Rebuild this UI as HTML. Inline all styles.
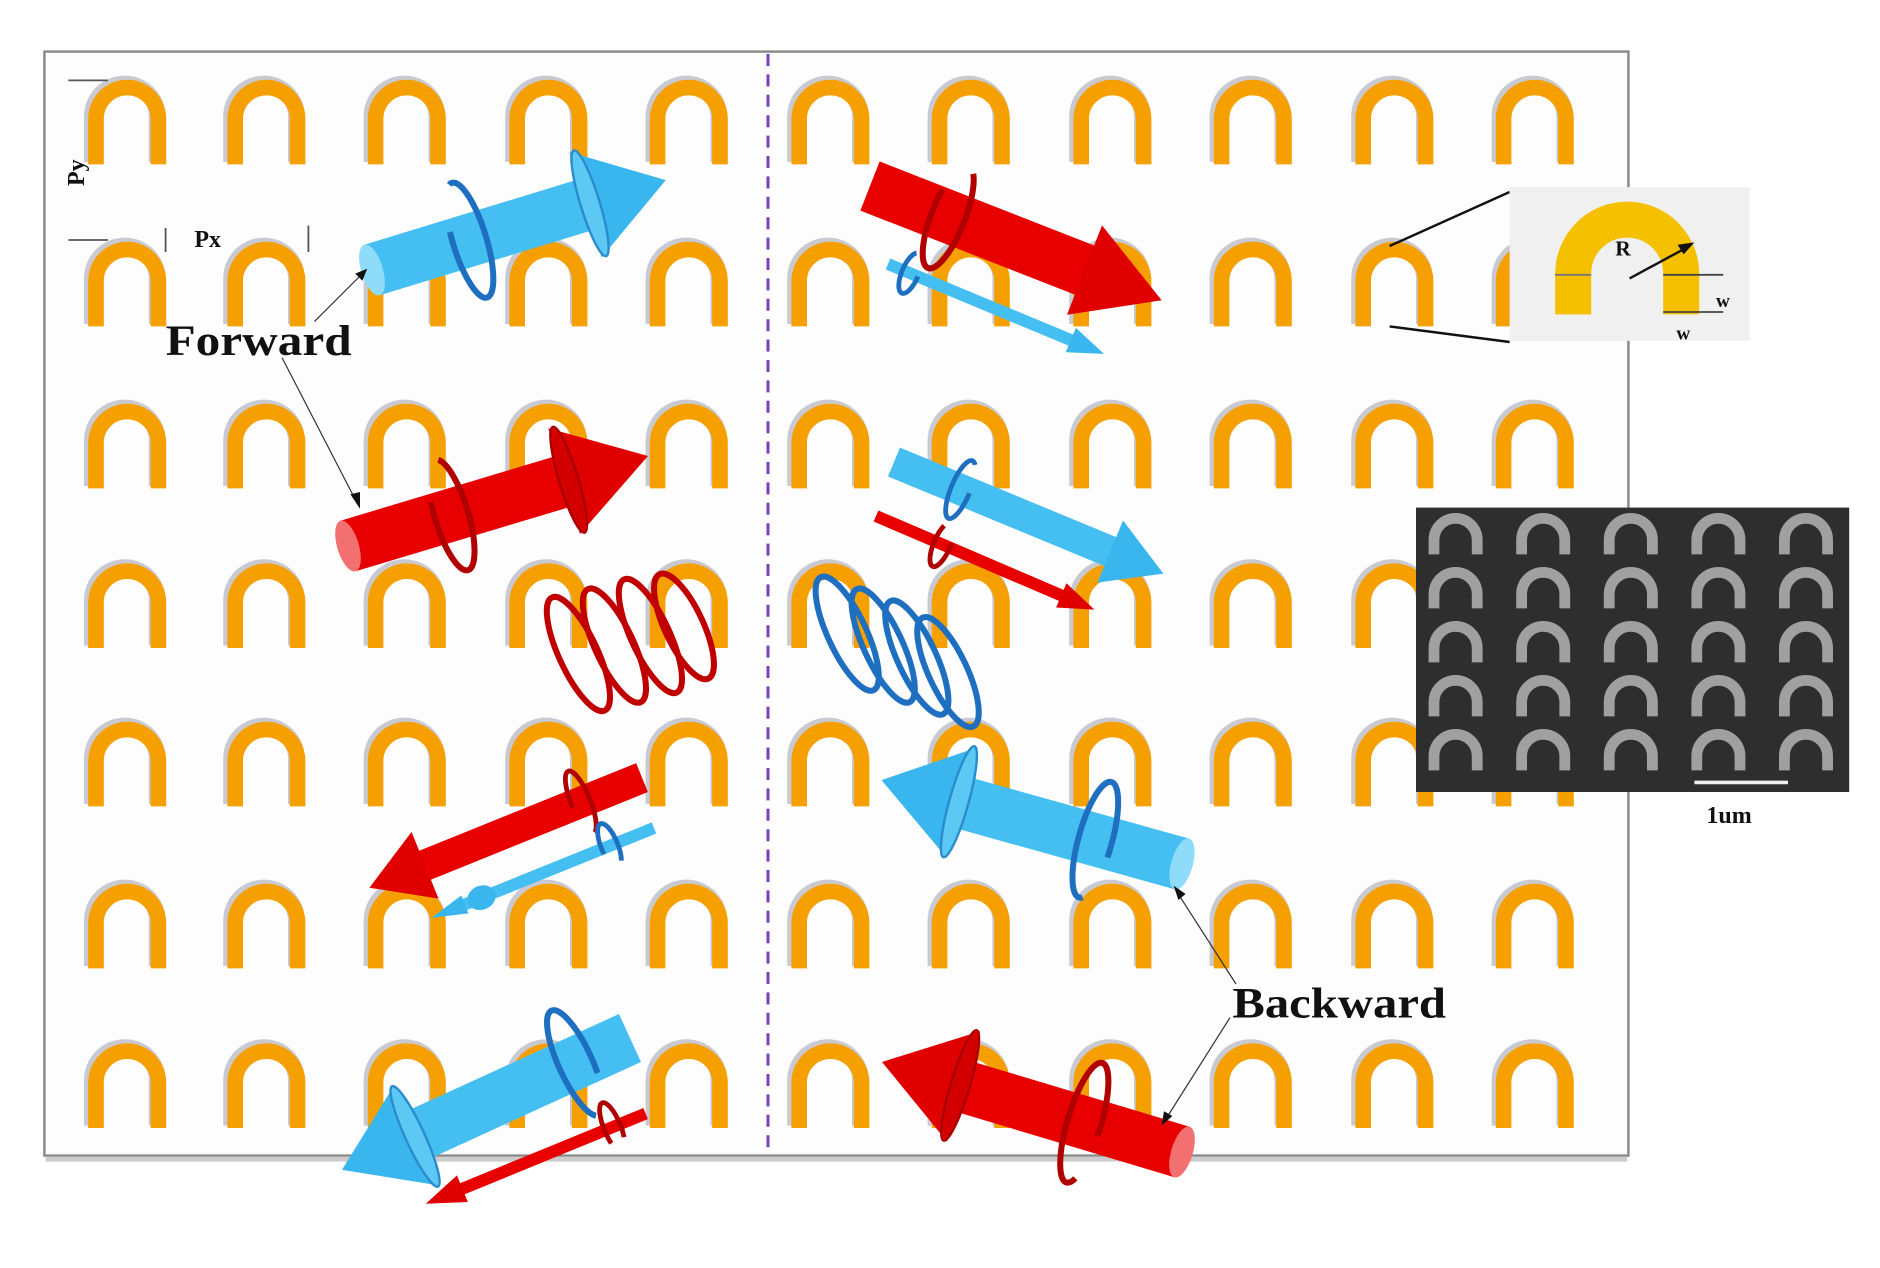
<!DOCTYPE html>
<html><head><meta charset="utf-8"><style>
html,body{margin:0;padding:0;background:#fff;}
svg{display:block}
text{font-family:"Liberation Serif",serif;font-weight:bold;fill:#111}
</style></head><body>
<svg width="1880" height="1268" viewBox="0 0 1566.67 1056.67" xmlns="http://www.w3.org/2000/svg">
<defs>
<g id="u">
 <path d="M5,70 V32 A27,27 0 0 1 59,32 V70" fill="none" stroke="#c9c9d2" stroke-width="14"/>
 <path d="M8,72 V34 A26,26 0 0 1 60,34 V72" fill="none" stroke="#f5a000" stroke-width="13"/>
</g>
<g id="su"><path d="M5,34 V22 A18,18 0 0 1 41,22 V34" fill="none" stroke="#a0a0a0" stroke-width="9"/></g>
<g id="row">
<use href="#u" x="72"/><use href="#u" x="188"/><use href="#u" x="305"/><use href="#u" x="423"/><use href="#u" x="540"/><use href="#u" x="658"/><use href="#u" x="775"/><use href="#u" x="893"/><use href="#u" x="1010"/><use href="#u" x="1128"/><use href="#u" x="1245"/>
</g>
<g id="srow"><use href="#su" x="0"/><use href="#su" x="73"/><use href="#su" x="146"/><use href="#su" x="219"/><use href="#su" x="292"/></g>
</defs>
<rect x="0" y="0" width="1566.67" height="1056.67" fill="#fff"/>
<rect x="37" y="43" width="1320" height="920" fill="#fdfdfd" stroke="#888" stroke-width="2"/>
<line x1="38" y1="966" x2="1356" y2="966" stroke="#ccc" stroke-width="4"/>
<g transform="translate(0,65)"><use href="#row"/></g>
<g transform="translate(0,200)"><use href="#row"/></g>
<g transform="translate(0,335)"><use href="#row"/></g>
<g transform="translate(0,468)"><use href="#row"/></g>
<g transform="translate(0,600)"><use href="#row"/></g>
<g transform="translate(0,735)"><use href="#row"/></g>
<g transform="translate(0,868)"><use href="#row"/></g>
<line x1="640" y1="45" x2="640" y2="960" stroke="#7a3fb8" stroke-width="2.5" stroke-dasharray="10,7"/>
<line x1="57" y1="67" x2="90" y2="67" stroke="#555" stroke-width="1.5"/>
<line x1="57" y1="200" x2="90" y2="200" stroke="#555" stroke-width="1.5"/>
<line x1="138" y1="190" x2="138" y2="210" stroke="#555" stroke-width="1.5"/>
<line x1="257" y1="188" x2="257" y2="210" stroke="#555" stroke-width="1.5"/>
<text x="162" y="206" font-size="20">Px</text>
<text transform="translate(70,155) rotate(-90)" font-size="20">Py</text>
<line x1="1158" y1="205" x2="1258" y2="160" stroke="#111" stroke-width="2"/>
<line x1="1158" y1="272" x2="1258" y2="285" stroke="#111" stroke-width="2"/>
<rect x="1258" y="156" width="200" height="128" fill="#f0f0f0"/>
<path d="M1311,262 V228 A45,45 0 0 1 1401,228 V262" fill="none" stroke="#f5c000" stroke-width="30"/>
<line x1="1296" y1="229" x2="1326" y2="229" stroke="#777" stroke-width="1.5"/>
<line x1="1386" y1="229" x2="1436" y2="229" stroke="#444" stroke-width="1.5"/>
<line x1="1386" y1="260" x2="1436" y2="260" stroke="#444" stroke-width="1.5"/>
<line x1="1358" y1="232" x2="1408" y2="205" stroke="#111" stroke-width="2"/>
<polygon points="1412,202 1398,204 1403,212" fill="#111"/>
<text x="1346" y="213" font-size="18">R</text>
<text x="1430" y="256" font-size="16">w</text>
<text x="1397" y="283" font-size="16">w</text>
<rect x="1180" y="423" width="361" height="237" fill="#2e2e2e"/>
<g transform="translate(1190,428)">
<use href="#srow"/><use href="#srow" y="45"/><use href="#srow" y="90"/><use href="#srow" y="135"/><use href="#srow" y="180"/>
</g>
<line x1="1412" y1="652" x2="1490" y2="652" stroke="#eee" stroke-width="3"/>
<text x="1422" y="686" font-size="20">1um</text>

<g transform="translate(310,225) rotate(-17)">
 <rect x="0" y="-22" width="190" height="44" fill="#45bff2"/>
 <polygon points="186,-46 256,0 186,46" fill="#3ab6ee"/>
 <ellipse cx="190" cy="0" rx="8" ry="46" fill="#5cc8f4" stroke="#2a8ccc" stroke-width="2"/>
 <ellipse cx="0" cy="0" rx="9" ry="22" fill="#8fdcfa"/>
 <ellipse cx="85" cy="0" rx="14" ry="50" fill="none" stroke="#1f6fc0" stroke-width="5" stroke-dasharray="120,40"/>
</g>
<g transform="translate(290,455) rotate(-16.7)">
 <rect x="0" y="-22" width="192" height="44" fill="#e80000"/>
 <polygon points="188,-46 261,0 188,46" fill="#e00000"/>
 <ellipse cx="192" cy="0" rx="8" ry="46" fill="#d40000" stroke="#a00" stroke-width="2"/>
 <ellipse cx="0" cy="0" rx="9" ry="22" fill="#f27070"/>
 <ellipse cx="90" cy="0" rx="14" ry="48" fill="none" stroke="#b00000" stroke-width="5" stroke-dasharray="120,40"/>
</g>
<g transform="translate(725,155) rotate(21.4)">
 <rect x="0" y="-22" width="196" height="44" fill="#e80000"/>
 <polygon points="192,-40 261,0 192,40" fill="#e00000"/>
 <ellipse cx="70" cy="0" rx="14" ry="46" fill="none" stroke="#b00000" stroke-width="5" stroke-dasharray="120,40"/>
</g>
<g transform="translate(740,220) rotate(22.6)">
 <rect x="0" y="-5" width="175" height="10" fill="#45bff2"/>
 <polygon points="165,-11 195,0 165,11" fill="#3ab6ee"/>
 <ellipse cx="20" cy="0" rx="7" ry="18" fill="none" stroke="#1f6fc0" stroke-width="4" stroke-dasharray="60,25"/>
</g>
<g transform="translate(745,385) rotate(22.5)">
 <rect x="0" y="-13" width="200" height="26" fill="#45bff2"/>
 <polygon points="195,-28 243,0 195,28" fill="#3ab6ee"/>
 <ellipse cx="60" cy="0" rx="8" ry="26" fill="none" stroke="#1f6fc0" stroke-width="4" stroke-dasharray="90,30"/>
</g>
<g transform="translate(730,430) rotate(23.2)">
 <rect x="0" y="-5" width="178" height="10" fill="#e80000"/>
 <polygon points="168,-11 198,0 168,11" fill="#e00000"/>
 <ellipse cx="60" cy="0" rx="7" ry="20" fill="none" stroke="#b00000" stroke-width="4" stroke-dasharray="60,25"/>
</g>
<g transform="translate(535,648) rotate(158)">
 <rect x="0" y="-13" width="200" height="26" fill="#e80000"/>
 <polygon points="195,-30 245,0 195,30" fill="#e00000"/>
 <ellipse cx="55" cy="0" rx="8" ry="28" fill="none" stroke="#b00000" stroke-width="4" stroke-dasharray="90,30"/>
</g>
<g transform="translate(545,690) rotate(158)">
 <rect x="0" y="-5" width="180" height="10" fill="#45bff2"/>
 <ellipse cx="155" cy="0" rx="12" ry="10" fill="#3ab6ee"/>
 <polygon points="170,-8 200,0 170,8" fill="#3ab6ee"/>
 <ellipse cx="40" cy="0" rx="7" ry="20" fill="none" stroke="#1f6fc0" stroke-width="4" stroke-dasharray="60,25"/>
</g>
<g transform="translate(985,720) rotate(195.6)">
 <rect x="0" y="-22" width="195" height="44" fill="#45bff2"/>
 <polygon points="190,-48 260,0 190,48" fill="#3ab6ee"/>
 <ellipse cx="193" cy="0" rx="8" ry="48" fill="#5cc8f4" stroke="#2a8ccc" stroke-width="2"/>
 <ellipse cx="0" cy="0" rx="9" ry="22" fill="#8fdcfa"/>
 <ellipse cx="75" cy="0" rx="14" ry="50" fill="none" stroke="#1f6fc0" stroke-width="5" stroke-dasharray="120,40"/>
</g>
<g transform="translate(525,865) rotate(155.4)">
 <rect x="0" y="-22" width="200" height="44" fill="#45bff2"/>
 <polygon points="195,-46 264,0 195,46" fill="#3ab6ee"/>
 <ellipse cx="197" cy="0" rx="8" ry="46" fill="#5cc8f4" stroke="#2a8ccc" stroke-width="2"/>
 <ellipse cx="50" cy="0" rx="14" ry="48" fill="none" stroke="#1f6fc0" stroke-width="5" stroke-dasharray="120,40"/>
</g>
<g transform="translate(538,928) rotate(157.7)">
 <rect x="0" y="-5" width="175" height="10" fill="#e80000"/>
 <polygon points="165,-12 198,0 165,12" fill="#e00000"/>
 <ellipse cx="30" cy="0" rx="7" ry="22" fill="none" stroke="#b00000" stroke-width="4" stroke-dasharray="60,25"/>
</g>
<g transform="translate(985,960) rotate(196.7)">
 <rect x="0" y="-22" width="195" height="44" fill="#e80000"/>
 <polygon points="190,-48 261,0 190,48" fill="#e00000"/>
 <ellipse cx="193" cy="0" rx="8" ry="48" fill="#d40000" stroke="#a00" stroke-width="2"/>
 <ellipse cx="0" cy="0" rx="9" ry="22" fill="#f27070"/>
 <ellipse cx="85" cy="0" rx="14" ry="52" fill="none" stroke="#b00000" stroke-width="5" stroke-dasharray="120,40"/>
</g>
<g fill="none" stroke="#c00000" stroke-width="5">
 <ellipse cx="482" cy="545" rx="16" ry="52" transform="rotate(-25 482 545)"/>
 <ellipse cx="512" cy="538" rx="16" ry="52" transform="rotate(-25 512 538)"/>
 <ellipse cx="542" cy="530" rx="16" ry="52" transform="rotate(-25 542 530)"/>
 <ellipse cx="570" cy="522" rx="16" ry="48" transform="rotate(-25 570 522)"/>
</g>
<g fill="none" stroke="#1f6fc0" stroke-width="5">
 <ellipse cx="706" cy="528" rx="16" ry="52" transform="rotate(-25 706 528)"/>
 <ellipse cx="736" cy="538" rx="16" ry="52" transform="rotate(-25 736 538)"/>
 <ellipse cx="764" cy="548" rx="16" ry="52" transform="rotate(-25 764 548)"/>
 <ellipse cx="790" cy="560" rx="16" ry="50" transform="rotate(-25 790 560)"/>
</g>
<line x1="262" y1="268" x2="305" y2="225" stroke="#333" stroke-width="1"/>
<polygon points="306,224 296,228 302,234" fill="#111"/>
<line x1="235" y1="298" x2="298" y2="420" stroke="#333" stroke-width="1"/>
<polygon points="300,424 292,412 300,410" fill="#111"/>
<text x="138" y="296" font-size="36" textLength="155" lengthAdjust="spacingAndGlyphs">Forward</text>
<line x1="1030" y1="820" x2="980" y2="742" stroke="#333" stroke-width="1"/>
<polygon points="978,738 982,750 988,745" fill="#111"/>
<line x1="1025" y1="848" x2="970" y2="935" stroke="#333" stroke-width="1"/>
<polygon points="968,938 970,926 977,930" fill="#111"/>
<text x="1027" y="848" font-size="36" textLength="178" lengthAdjust="spacingAndGlyphs">Backward</text>
</svg>
</body></html>
